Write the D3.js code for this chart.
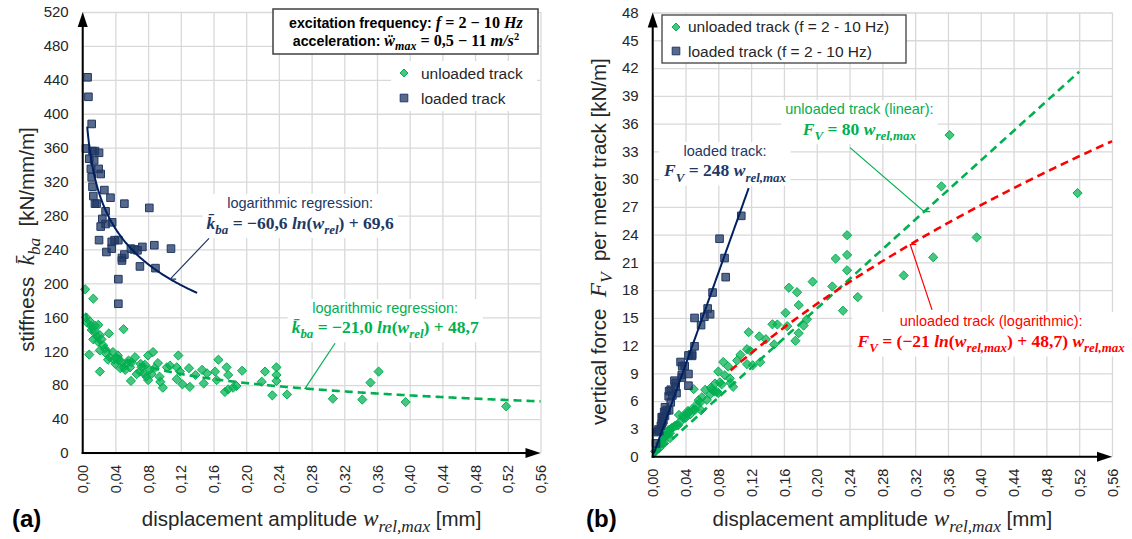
<!DOCTYPE html>
<html>
<head>
<meta charset="utf-8">
<title>stiffness and vertical force vs displacement amplitude</title>
<script src="https://cdn.jsdelivr.net/npm/d3@7/dist/d3.min.js"></script>
<style>
  body { margin:0; background:#fff; }
  svg { display:block; font-family:"Liberation Sans", Arial, sans-serif; }
  text { white-space: pre; }
  .grid line { stroke:#d9d9d9; stroke-width:1.3; }
  .grid path { display:none; }
  .ticks path, .ticks line { display:none; }
  .ticks text { fill:#262626; font-size:15px; font-family:"Liberation Sans", Arial, sans-serif; }
</style>
</head>
<body>
<svg id="chart" width="1132" height="539"></svg>
<script>
/*************** data *****************/
var displacementTicks = [0, 0.04, 0.08, 0.12, 0.16, 0.20, 0.24, 0.28, 0.32, 0.36, 0.40, 0.44, 0.48, 0.52, 0.56];
var stiffnessTicks = [0, 40, 80, 120, 160, 200, 240, 280, 320, 360, 400, 440, 480, 520];
var forceTicks = [0, 3, 6, 9, 12, 15, 18, 21, 24, 27, 30, 33, 36, 39, 42, 45, 48];

// unloaded track: displacement amplitude w_rel,max [mm] and stiffness [kN/mm/m]
var unloadedW = [0.003,0.013,0.050,0.008,0.021,0.004,0.005,0.009,0.010,0.015,0.019,0.011,0.015,0.032,0.013,0.019,
  0.023,0.017,0.021,0.025,0.027,0.021,0.029,0.033,0.037,0.031,0.038,0.043,0.044,0.040,0.042,0.048,0.046,0.050,
  0.054,0.056,0.052,0.058,0.060,0.064,0.059,0.066,0.071,0.070,0.072,0.076,0.080,0.086,0.078,0.082,0.084,0.075,
  0.080,0.088,0.092,0.094,0.095,0.098,0.103,0.107,0.117,0.115,0.119,0.115,0.122,0.131,0.130,0.138,0.146,0.152,
  0.148,0.162,0.166,0.164,0.176,0.178,0.174,0.178,0.184,0.195,0.188,0.223,0.237,0.237,0.237,0.219,0.232,0.250,
  0.306,0.342,0.352,0.362,0.395,0.518];
var unloadedK = [193,182,146,116,96,160,154,155,150,150,151,145,143,141,134,131,
  134,138,139,127,123,121,117,113,119,110,110,115,109,105,111,107,100,101,
  105,109,98,101,107,113,85,93,105,96,101,104,115,119,90,98,93,94,
  86,100,106,90,84,77,101,103,115,101,96,87,81,78,100,92,98,94,
  82,96,110,86,101,92,72,75,77,97,79,96,101,92,85,84,68,69,
  64,63,83,96,60,55];

// loaded track
var loadedW = [0.006,0.007,0.011,0.004,0.008,0.012,0.015,0.020,0.010,0.014,0.0195,0.022,0.011,0.012,0.013,0.015,
  0.017,0.0265,0.034,0.051,0.0815,0.028,0.024,0.022,0.028,0.036,0.020,0.029,0.0355,0.039,0.0436,0.0355,0.048,
  0.051,0.059,0.063,0.067,0.073,0.0876,0.108,0.070,0.089,0.0436,0.0436,0.048];
var loadedK = [443,420,388,359,347,356,356,354,335,345,335,329,325,314,303,294,
  294,310,301,294,289,285,276,267,270,272,251,237,249,251,251,241,230,
  234,241,240,239,243,245,241,220,218,205,176,227];

// regression results as printed on the chart
var logFitLoaded = [-60.6, 69.6];     // k = a ln(w) + b
var logFitUnloaded = [-21.0, 48.7];
var slopeLoaded = 248, slopeUnloaded = 80;   // F = c w

/*************** settings *****************/
var navy = "#203864",
    green = "#00b050",
    red = "#ff0000",
    ink = "#262626",
    serif = "'Liberation Serif', 'DejaVu Serif', serif";

var svg = d3.select("#chart");
var comma = d3.formatLocale({decimal: ",", thousands: ".", grouping: [3], currency: ["", ""]});
var fmtW = comma.format(".2f");

// force per meter track = stiffness * displacement
function toPoints(ws, ks, force) {
  return ws.map(function(w, i) { return {w: w, v: force ? w * ks[i] : ks[i]}; });
}

/*********** text helper: parts are [text, flags]
   b bold, i serif italic, s serif, _ sub, ^ sup, L a bit larger ***********/
function rich(parent, parts, o) {
  var t = parent.append("text")
    .attr("text-anchor", o.anchor || "middle")
    .attr("fill", o.color || ink)
    .style("font-size", o.size + "px");
  if (o.rotate) t.attr("transform", "translate(" + o.x + "," + o.y + ") rotate(-90)");
  else t.attr("x", o.x).attr("y", o.y);
  var shift = 0;
  parts.forEach(function(p) {
    var f = p[1] || "", ts = t.append("tspan").text(p[0]);
    var fs = o.size * (f.indexOf("L") > -1 ? 1.14 : 1);
    if (f.indexOf("b") > -1) ts.style("font-weight", "bold");
    if (f.indexOf("i") > -1) ts.style("font-family", serif).style("font-style", "italic");
    if (f.indexOf("s") > -1) ts.style("font-family", serif);
    var want = f.indexOf("_") > -1 ? o.size * 0.3 : (f.indexOf("^") > -1 ? -o.size * 0.4 : 0);
    if (want != shift) { ts.attr("dy", want - shift); shift = want; }
    if (want) fs = fs * 0.74;
    if (fs != o.size) ts.style("font-size", fs + "px");
  });
  return t;
}

// two line label with a white box behind it
function annotation(parent, x, lines, color) {
  var g = parent.append("g");
  lines.forEach(function(l) { rich(g, l.parts, {x: x, y: l.y, size: l.size, color: color}); });
  var bb = g.node().getBBox();
  g.insert("rect", "text").attr("x", bb.x - 4).attr("y", bb.y - 1)
    .attr("width", bb.width + 8).attr("height", bb.height + 2).attr("fill", "#fff");
}

function diamond(r) { return "M0," + (-r) + "L" + r + ",0L0," + r + "L" + (-r) + ",0Z"; }
function square(s) { return "M" + (-s / 2) + "," + (-s / 2) + "h" + s + "v" + s + "h" + (-s) + "Z"; }

/*************** one panel *****************/
function panel(cfg) {
  var x = d3.scaleLinear().domain([0, 0.56]).range([cfg.left, cfg.right]);
  var y = d3.scaleLinear().domain([0, cfg.yMax]).range([cfg.bottom, cfg.top]);
  var g = svg.append("g");

  // grid
  g.append("g").attr("class", "grid").attr("transform", "translate(0," + cfg.bottom + ")")
    .call(d3.axisBottom(x).tickValues(displacementTicks).tickSize(-(cfg.bottom - cfg.top)).tickFormat(""));
  g.append("g").attr("class", "grid").attr("transform", "translate(" + cfg.left + ",0)")
    .call(d3.axisLeft(y).tickValues(cfg.yTicks).tickSize(-(cfg.right - cfg.left)).tickFormat(""));

  // tick labels
  g.append("g").attr("class", "ticks").attr("transform", "translate(" + cfg.left + ",0)")
    .call(d3.axisLeft(y).tickValues(cfg.yTicks).tickSize(0).tickPadding(14).tickFormat(d3.format("d")));
  g.append("g").attr("class", "ticks").attr("transform", "translate(0," + cfg.bottom + ")")
    .call(d3.axisBottom(x).tickValues(displacementTicks).tickSize(0).tickFormat(fmtW))
    .selectAll("text")
      .attr("transform", "rotate(-90)")
      .attr("text-anchor", "end")
      .attr("x", -12).attr("y", 0).attr("dy", "0.35em")
      .style("font-size", "14.5px");

  // markers: unloaded first, loaded on top
  g.append("g").selectAll("path").data(cfg.unloaded).enter().append("path")
    .attr("d", diamond(4.6))
    .attr("transform", function(d) { return "translate(" + x(d.w) + "," + y(d.v) + ")"; })
    .attr("fill", green).attr("fill-opacity", 0.72).attr("stroke", green).attr("stroke-width", 1);
  g.append("g").selectAll("path").data(cfg.loaded).enter().append("path")
    .attr("d", square(7.6))
    .attr("transform", function(d) { return "translate(" + x(d.w) + "," + y(d.v) + ")"; })
    .attr("fill", navy).attr("fill-opacity", 0.75).attr("stroke", navy).attr("stroke-width", 1);

  // regression lines
  var line = d3.line().x(function(d) { return x(d[0]); }).y(function(d) { return y(d[1]); });
  cfg.fits.forEach(function(f) {
    var pts = d3.range(f.from, f.to, 0.001).concat([f.to]).map(function(w) { return [w, f.fn(w)]; });
    g.append("path").attr("d", line(pts)).attr("fill", "none")
      .attr("stroke", f.color).attr("stroke-width", f.width)
      .attr("stroke-dasharray", f.dash || null);
  });

  // annotations + leader lines
  cfg.notes.forEach(function(n) {
    var fx = x(n.on), fy = y(n.fn(n.on));
    g.append("path")
      .attr("d", "M" + (fx + 6) + "," + fy + "H" + fx + "L" + x(n.tail[0]) + "," + y(n.tail[1]))
      .attr("fill", "none").attr("stroke", n.color).attr("stroke-width", 1.2);
    annotation(g, x(n.at[0]), [
      {parts: [[n.title]], y: y(n.at[1]), size: 14.5},
      {parts: n.eq, y: y(n.at[2]), size: 17.5}
    ], n.color);
  });

  // axes with arrows
  g.append("line").attr("x1", cfg.left).attr("x2", cfg.left).attr("y1", cfg.bottom + 1).attr("y2", cfg.top + 6)
    .attr("stroke", "#000").attr("stroke-width", 2);
  g.append("path").attr("d", "M" + (cfg.left - 5) + "," + (cfg.top + 15) + "L" + cfg.left + "," + cfg.top + "L" + (cfg.left + 5) + "," + (cfg.top + 15) + "Z")
    .attr("fill", "#000");
  g.append("line").attr("x1", cfg.left - 1).attr("x2", cfg.right - 6).attr("y1", cfg.bottom).attr("y2", cfg.bottom)
    .attr("stroke", "#000").attr("stroke-width", 2);
  g.append("path").attr("d", "M" + (cfg.right - 15) + "," + (cfg.bottom - 5) + "L" + cfg.right + "," + cfg.bottom + "L" + (cfg.right - 15) + "," + (cfg.bottom + 5) + "Z")
    .attr("fill", "#000");

  // axis titles
  var mid = (cfg.left + cfg.right) / 2;
  rich(g, [["displacement amplitude "], ["w", "iL"], ["rel,max", "iL_"], [" [mm]"]], {x: mid, y: 526, size: 20.5});
  rich(g, cfg.yTitle, {x: cfg.yTitleX, y: (cfg.top + cfg.bottom) / 2 + 7, size: 20.5, rotate: true});
  svg.append("text").attr("x", cfg.tagX).attr("y", 527).attr("font-weight", "bold")
    .style("font-size", "24px").attr("fill", "#000").text(cfg.tag);

  return {x: x, y: y, g: g};
}

/*************** (a) stiffness *****************/
function logFit(c) { return function(w) { return c[0] * Math.log(w) + c[1]; }; }
function logForce(c) { return function(w) { return (c[0] * Math.log(w) + c[1]) * w; }; }
function linForce(c) { return function(w) { return c * w; }; }

var a = panel({
  left: 82.7, right: 540.5, top: 12, bottom: 453, yMax: 520, yTicks: stiffnessTicks,
  unloaded: toPoints(unloadedW, unloadedK, false),
  loaded: toPoints(loadedW, loadedK, false),
  fits: [
    {fn: logFit(logFitLoaded), from: 0.0055, to: 0.14, color: "#002060", width: 2},
    {fn: logFit(logFitUnloaded), from: 0.004, to: 0.56, color: green, width: 2.6, dash: "8,5"}
  ],
  notes: [
    {fn: logFit(logFitLoaded), on: 0.107, tail: [0.1545, 253], at: [0.266, 289, 264.5], color: navy,
     title: "logarithmic regression:",
     eq: [["k\u0304", "bi"], ["ba", "bi_"], [" = \u221260,6 ", "bs"], ["ln", "bi"], ["(", "bs"], ["w", "bi"], ["rel", "bi_"], [") + 69,6", "bs"]]},
    {fn: logFit(logFitUnloaded), on: 0.272, tail: [0.3087, 129.4], at: [0.37, 165, 141.5], color: green,
     title: "logarithmic regression:",
     eq: [["k\u0304", "bi"], ["ba", "bi_"], [" = \u221221,0 ", "bs"], ["ln", "bi"], ["(", "bs"], ["w", "bi"], ["rel", "bi_"], [") + 48,7", "bs"]]}
  ],
  yTitle: [["stiffness  "], ["k\u0304", "iL"], ["ba", "iL_"], ["  [kN/mm/m]"]], yTitleX: 34,
  tag: "(a)", tagX: 12
});

// info box
var box = a.g.append("g");
box.append("rect").attr("x", 273).attr("y", 9).attr("width", 265).attr("height", 45)
  .attr("fill", "#fff").attr("stroke", "#404040").attr("stroke-width", 1.5);
rich(box, [["excitation frequency: ", "b"], ["f", "biL"], [" = 2 \u2212 10 ", "bsL"], ["Hz", "biL"]], {x: 406, y: 27.5, size: 14.2, color: "#000"});
rich(box, [["acceleration: ", "b"], ["\u1e85", "biL"], ["max", "biL_"], [" = 0,5 \u2212 11 ", "bsL"], ["m/s", "biL"], ["2", "bs^"]], {x: 406, y: 46, size: 14.2, color: "#000"});

// legend
var legA = a.g.append("g");
legA.append("rect").attr("x", 391).attr("y", 61).attr("width", 146).attr("height", 50).attr("fill", "#fff");
legA.append("path").attr("d", diamond(4)).attr("transform", "translate(404,73)")
  .attr("fill", green).attr("fill-opacity", 0.72).attr("stroke", green);
legA.append("path").attr("d", square(7.6)).attr("transform", "translate(404,98)")
  .attr("fill", navy).attr("fill-opacity", 0.75).attr("stroke", navy);
rich(legA, [["unloaded track"]], {x: 421, y: 78.5, size: 15.5, anchor: "start"});
rich(legA, [["loaded track"]], {x: 421, y: 103.5, size: 15.5, anchor: "start"});

/*************** (b) vertical force *****************/
var b = panel({
  left: 652.7, right: 1112, top: 12.5, bottom: 456.7, yMax: 48, yTicks: forceTicks,
  unloaded: toPoints(unloadedW, unloadedK, true),
  loaded: toPoints(loadedW, loadedK, true),
  fits: [
    {fn: linForce(slopeLoaded), from: 0, to: 0.117, color: "#002060", width: 2},
    {fn: linForce(slopeUnloaded), from: 0, to: 0.52, color: green, width: 2.6, dash: "8,5"},
    {fn: logForce(logFitUnloaded), from: 0.095, to: 0.56, color: red, width: 2.6, dash: "8,5"}
  ],
  notes: [
    {fn: linForce(slopeUnloaded), on: 0.331, tail: [0.2406, 33.4], at: [0.252, 37.0, 34.8], color: green,
     title: "unloaded track (linear):",
     eq: [["F", "bi"], ["V", "bi_"], [" = 80 ", "bs"], ["w", "bi"], ["rel,max", "bi_"]]},
    {fn: logForce(logFitUnloaded), on: 0.314, tail: [0.3406, 15.86], at: [0.4126, 14.13, 11.83], color: red,
     title: "unloaded track (logarithmic):",
     eq: [["F", "bi"], ["V", "bi_"], [" = (\u221221 ", "bs"], ["ln", "bi"], ["(", "bs"], ["w", "bi"], ["rel,max", "bi_"], [") + 48,7) ", "bs"], ["w", "bi"], ["rel,max", "bi_"]]}
  ],
  yTitle: [["vertical force  "], ["F", "iL"], ["V", "iL_"], ["  per meter track [kN/m]"]], yTitleX: 606,
  tag: "(b)", tagX: 586
});

// loaded track label has no leader line
annotation(b.g, b.x(0.0882), [
  {parts: [["loaded track:"]], y: b.y(32.5), size: 14.5},
  {parts: [["F", "bi"], ["V", "bi_"], [" = 248 ", "bs"], ["w", "bi"], ["rel,max", "bi_"]], y: b.y(30.3), size: 17.5}
], navy);

// legend
var legB = b.g.append("g");
legB.append("rect").attr("x", 662).attr("y", 15).attr("width", 244).attr("height", 48)
  .attr("fill", "#fff").attr("stroke", "#404040").attr("stroke-width", 1.3);
legB.append("path").attr("d", diamond(4)).attr("transform", "translate(676,27)")
  .attr("fill", green).attr("fill-opacity", 0.72).attr("stroke", green);
legB.append("path").attr("d", square(7.6)).attr("transform", "translate(676,51)")
  .attr("fill", navy).attr("fill-opacity", 0.75).attr("stroke", navy);
rich(legB, [["unloaded track (f = 2 - 10 Hz)"]], {x: 688, y: 32, size: 15.5, anchor: "start"});
rich(legB, [["loaded track (f = 2 - 10 Hz)"]], {x: 688, y: 56.5, size: 15.5, anchor: "start"});
</script>
</body>
</html>
